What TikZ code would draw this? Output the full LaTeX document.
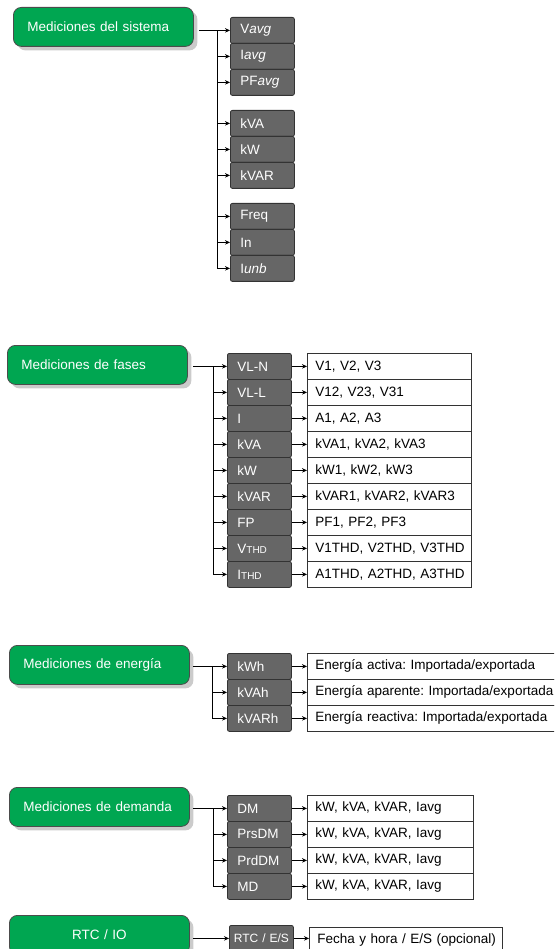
\documentclass[tikz,border=0pt]{standalone}
\usepackage{fontspec}
\setmainfont{Liberation Sans}
\usetikzlibrary{shadows,arrows.meta}
\definecolor{verde}{RGB}{0,166,81}
\definecolor{gris}{RGB}{102,102,102}
\frenchspacing

\begin{document}
\begin{tikzpicture}[x=1pt, y=-1pt, >={Stealth[length=5pt,width=4.5pt]}, line width=0.8pt,
  font=\fontsize{13.5}{16}\selectfont,
  grupo/.style={draw=black!70, fill=verde, text=white, rounded corners=8pt, anchor=north west, text width=152pt, inner xsep=14pt, inner ysep=0pt, minimum height=39pt, align=left, drop shadow={shadow xshift=4pt, shadow yshift=-4pt, fill=black!45, opacity=0.45}},
  medida/.style={draw=black!80, fill=gris, text=white, rounded corners=2pt, anchor=north west, text width=44pt, inner xsep=10pt, inner ysep=0pt, minimum height=26pt, align=left},
  valor/.style={draw=black!80, fill=white, anchor=north west, text width=148pt, inner xsep=8pt, inner ysep=0pt, minimum height=26pt, align=left}]
\useasboundingbox (0,0) rectangle (554,949);
\clip (0,0) rectangle (554,949);

% sistema
\node[grupo] (sis) at (13,7) {Mediciones del sistema};
\node[medida] (vavg) at (230,17) {V\textit{avg}};
\node[medida] (iavg) at (230,43) {I\textit{avg}};
\node[medida] (pfavg) at (230,69) {PF\textit{avg}};
\node[medida] (kvas) at (230,110) {kVA};
\node[medida] (kws) at (230,136) {kW};
\node[medida] (kvars) at (230,162) {kVAR};
\node[medida] (freq) at (230,203) {Freq};
\node[medida] (ineu) at (230,229) {In};
\node[medida] (iunb) at (230,255) {I\textit{unb}};
\coordinate (b1) at (217,0);
\draw[shorten <=5pt] (sis.east |- vavg) -- (b1 |- vavg);
\draw (b1 |- vavg) -- (b1 |- iunb);
\draw[->] (b1 |- vavg) -- (vavg);
\draw[->] (b1 |- iavg) -- (iavg);
\draw[->] (b1 |- pfavg) -- (pfavg);
\draw[->] (b1 |- kvas) -- (kvas);
\draw[->] (b1 |- kws) -- (kws);
\draw[->] (b1 |- kvars) -- (kvars);
\draw[->] (b1 |- freq) -- (freq);
\draw[->] (b1 |- ineu) -- (ineu);
\draw[->] (b1 |- iunb) -- (iunb);

% fases
\node[grupo] (fas) at (7,345) {Mediciones de fases};
\node[medida] (vln) at (227,353) {VL-N};
\node[medida] (vll) at (227,379) {VL-L};
\node[medida] (ia) at (227,405) {I};
\node[medida] (kvaf) at (227,431) {kVA};
\node[medida] (kwf) at (227,457) {kW};
\node[medida] (kvarf) at (227,483) {kVAR};
\node[medida] (fp) at (227,509) {FP};
\node[medida] (vthd) at (227,535) {V{\fontsize{10}{12}\selectfont THD}};
\node[medida] (ithd) at (227,561) {I{\fontsize{10}{12}\selectfont THD}};
\node[valor] (tvln) at (307,353) {V1, V2, V3};
\node[valor] (tvll) at (307,379) {V12, V23, V31};
\node[valor] (tia) at (307,405) {A1, A2, A3};
\node[valor] (tkvaf) at (307,431) {kVA1, kVA2, kVA3};
\node[valor] (tkwf) at (307,457) {kW1, kW2, kW3};
\node[valor] (tkvarf) at (307,483) {kVAR1, kVAR2, kVAR3};
\node[valor] (tfp) at (307,509) {PF1, PF2, PF3};
\node[valor] (tvthd) at (307,535) {\mbox{V1THD, V2THD, V3THD}};
\node[valor] (tithd) at (307,561) {\mbox{A1THD, A2THD, A3THD}};
\coordinate (b2) at (213,0);
\draw[shorten <=5pt] (fas.east |- vln) -- (b2 |- vln);
\draw (b2 |- vln) -- (b2 |- ithd);
\draw[->] (b2 |- vln) -- (vln);
\draw[->] (b2 |- vll) -- (vll);
\draw[->] (b2 |- ia) -- (ia);
\draw[->] (b2 |- kvaf) -- (kvaf);
\draw[->] (b2 |- kwf) -- (kwf);
\draw[->] (b2 |- kvarf) -- (kvarf);
\draw[->] (b2 |- fp) -- (fp);
\draw[->] (b2 |- vthd) -- (vthd);
\draw[->] (b2 |- ithd) -- (ithd);
\draw[->] (vln) -- (vln -| tvln.west);
\draw[->] (vll) -- (vll -| tvll.west);
\draw[->] (ia) -- (ia -| tia.west);
\draw[->] (kvaf) -- (kvaf -| tkvaf.west);
\draw[->] (kwf) -- (kwf -| tkwf.west);
\draw[->] (kvarf) -- (kvarf -| tkvarf.west);
\draw[->] (fp) -- (fp -| tfp.west);
\draw[->] (vthd) -- (vthd -| tvthd.west);
\draw[->] (ithd) -- (ithd -| tithd.west);

% energia
\node[grupo] (ene) at (9,645) {Mediciones de energía};
\node[medida] (kwh) at (227,653) {kWh};
\node[medida] (kvah) at (227,679) {kVAh};
\node[medida] (kvarh) at (227,705) {kVARh};
\node[valor, text width=300pt] (tkwh) at (307,653) {Energía activa: Importada/exportada};
\node[valor, text width=300pt] (tkvah) at (307,679) {Energía aparente: Importada/exportada};
\node[valor, text width=300pt] (tkvarh) at (307,705) {Energía reactiva: Importada/exportada};
\coordinate (b3) at (212,0);
\draw[shorten <=3pt] (ene.east |- kwh) -- (b3 |- kwh);
\draw (b3 |- kwh) -- (b3 |- kvarh);
\draw[->] (b3 |- kwh) -- (kwh);
\draw[->] (b3 |- kvah) -- (kvah);
\draw[->] (b3 |- kvarh) -- (kvarh);
\draw[->] (kwh) -- (kwh -| tkwh.west);
\draw[->] (kvah) -- (kvah -| tkvah.west);
\draw[->] (kvarh) -- (kvarh -| tkvarh.west);

% demanda
\node[grupo] (dem) at (9,787) {Mediciones de demanda};
\node[medida] (dm) at (227,795) {DM};
\node[medida] (prsdm) at (227,821) {PrsDM};
\node[medida] (prddm) at (227,847) {PrdDM};
\node[medida] (md) at (227,873) {MD};
\node[valor, text width=150pt] (tdm) at (307,795) {kW, kVA, kVAR, Iavg};
\node[valor, text width=150pt] (tprsdm) at (307,821) {kW, kVA, kVAR, Iavg};
\node[valor, text width=150pt] (tprddm) at (307,847) {kW, kVA, kVAR, Iavg};
\node[valor, text width=150pt] (tmd) at (307,873) {kW, kVA, kVAR, Iavg};
\coordinate (b4) at (213,0);
\draw[shorten <=3pt] (dem.east |- dm) -- (b4 |- dm);
\draw (b4 |- dm) -- (b4 |- md);
\draw[->] (b4 |- dm) -- (dm);
\draw[->] (b4 |- prsdm) -- (prsdm);
\draw[->] (b4 |- prddm) -- (prddm);
\draw[->] (b4 |- md) -- (md);
\draw[->] (dm) -- (dm -| tdm.west);
\draw[->] (prsdm) -- (prsdm -| tprsdm.west);
\draw[->] (prddm) -- (prddm -| tprddm.west);
\draw[->] (md) -- (md -| tmd.west);

% rtc
\node[grupo, align=center] (rtc) at (9,915) {RTC / IO};
\node[medida, align=center, inner xsep=2pt, text width=60pt, font=\fontsize{12}{14}\selectfont] (rtces) at (229,925) {RTC / E/S};
\node[valor, text width=177pt, inner xsep=8pt] (trtc) at (309,927) {\mbox{Fecha y hora / E/S (opcional)}};
\draw[->, shorten <=3pt] (rtc.east |- rtces) -- (rtces);
\draw[->] (rtces) -- (rtces -| trtc.west);
\end{tikzpicture}
\end{document}
